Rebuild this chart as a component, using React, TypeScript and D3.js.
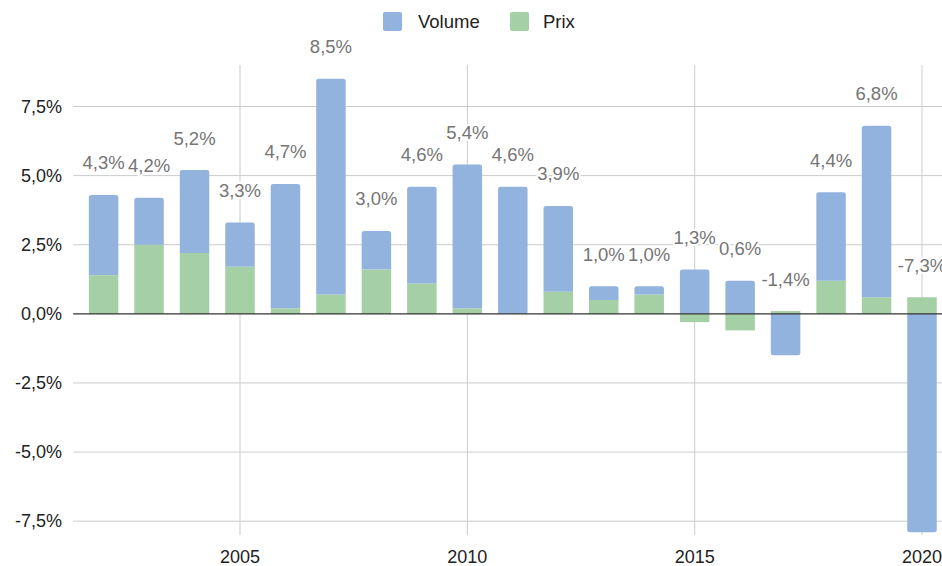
import React from "react";
import * as d3 from "d3";

const years = [2002, 2003, 2004, 2005, 2006, 2007, 2008, 2009, 2010, 2011, 2012, 2013, 2014, 2015, 2016, 2017, 2018, 2019, 2020];
const volume = [2.9, 1.7, 3.0, 1.6, 4.5, 7.8, 1.4, 3.5, 5.2, 4.6, 3.1, 0.5, 0.3, 1.6, 1.2, -1.5, 3.2, 6.2, -7.9];
const prix = [1.4, 2.5, 2.2, 1.7, 0.2, 0.7, 1.6, 1.1, 0.2, 0.0, 0.8, 0.5, 0.7, -0.3, -0.6, 0.1, 1.2, 0.6, 0.6];
const totalLabels = ["4,3%", "4,2%", "5,2%", "3,3%", "4,7%", "8,5%", "3,0%", "4,6%", "5,4%", "4,6%", "3,9%", "1,0%", "1,0%", "1,3%", "0,6%", "-1,4%", "4,4%", "6,8%", "-7,3%"];
const yTicks = [-7.5, -5, -2.5, 0, 2.5, 5, 7.5];
const xTicks = [2005, 2010, 2015, 2020];
const seriesNames = ["Volume", "Prix"];

const W = 942;
const H = 566;
const BLUE = "#93b3df";
const GREEN = "#a5d0a5";
const FONT = "Liberation Sans, Arial, sans-serif";

function roundedBar(x: number, w: number, y0: number, y1: number, r: number) {
  const h = Math.abs(y1 - y0);
  const rr = Math.min(r, h / 2, w / 2);
  if (y1 < y0) {
    return `M${x},${y0}V${y1 + rr}Q${x},${y1} ${x + rr},${y1}H${x + w - rr}Q${x + w},${y1} ${x + w},${y1 + rr}V${y0}Z`;
  }
  return `M${x},${y0}V${y1 - rr}Q${x},${y1} ${x + rr},${y1}H${x + w - rr}Q${x + w},${y1} ${x + w},${y1 - rr}V${y0}Z`;
}

const locale = d3.formatLocale({ decimal: ",", thousands: " ", grouping: [3], currency: ["", "€"], minus: "-" });

export default function App() {
  const x = d3.scaleLinear().domain([2005, 2020]).range([240, 922]);
  const y = d3.scaleLinear().domain([-8, 9]).range([535, 65]);
  const plotLeft = x(2001.33);
  const plotRight = x(2020.67);
  const bw = 29.5;

  const table = years.map((yr, i) => ({ year: yr, Prix: prix[i], Volume: volume[i] }));
  const stack = d3.stack<any>().keys(["Prix", "Volume"]).offset(d3.stackOffsetDiverging);
  const series = stack(table);

  const fmt = (v: number) => locale.format(".1f")(v) + "%";

  return (
    <div style={{ position: "fixed", left: 0, top: 0 }}>
      <svg width={W} height={H} style={{ display: "block", background: "#fff" }} fontFamily={FONT}>
        {yTicks.filter((t) => t !== 0).map((t) => (
          <line key={"h" + t} x1={plotLeft} x2={plotRight} y1={y(t)} y2={y(t)} stroke="#cccccc" strokeWidth={1} />
        ))}
        {xTicks.map((t) => (
          <line key={"v" + t} x1={x(t)} x2={x(t)} y1={y(9)} y2={y(-8)} stroke="#cccccc" strokeWidth={1} />
        ))}
        {series.map((s) => (
          <g key={s.key}>
            {s.map((d, i) => {
              const cx = x(years[i]);
              const a = d[0];
              const b = d[1];
              if (a === b) return null;
              const base = y(Math.abs(b) > Math.abs(a) ? a : b);
              const outer = y(Math.abs(b) > Math.abs(a) ? b : a);
              if (s.key === "Volume") {
                return <path key={i} d={roundedBar(cx - bw / 2, bw, base, outer, 2.5)} fill={BLUE} />;
              }
              return (
                <rect key={i} x={cx - bw / 2} width={bw} y={Math.min(base, outer)} height={Math.abs(outer - base)} fill={GREEN} />
              );
            })}
          </g>
        ))}
        <line x1={plotLeft} x2={plotRight} y1={y(0)} y2={y(0)} stroke="#333333" strokeWidth={1.2} />
        {yTicks.map((t) => (
          <text key={"yl" + t} x={62} y={y(t)} dy="0.35em" textAnchor="end" fontSize={18} fill="#222222">
            {fmt(t)}
          </text>
        ))}
        {xTicks.map((t) => (
          <text key={"xl" + t} x={x(t)} y={563} textAnchor="middle" fontSize={18} fill="#222222">
            {t}
          </text>
        ))}
        {years.map((yr, i) => {
          const posTop = Math.max(0, volume[i]) + Math.max(0, prix[i]);
          return (
            <text
              key={"dl" + yr}
              x={x(yr)}
              y={y(posTop) - 32}
              dy="0.35em"
              textAnchor="middle"
              fontSize={18.5}
              fill="#757575"
              stroke="#ffffff"
              strokeWidth={4}
              strokeLinejoin="round"
              style={{ paintOrder: "stroke" }}
            >
              {totalLabels[i]}
            </text>
          );
        })}
        <g>
          <rect x={383} y={12} width={19} height={19} rx={2} fill={BLUE} />
          <text x={418} y={21.5} dy="0.35em" fontSize={18.5} fill="#222222">{seriesNames[0]}</text>
          <rect x={510} y={12} width={19} height={19} rx={2} fill={GREEN} />
          <text x={543} y={21.5} dy="0.35em" fontSize={18.5} fill="#222222">{seriesNames[1]}</text>
        </g>
      </svg>
    </div>
  );
}
